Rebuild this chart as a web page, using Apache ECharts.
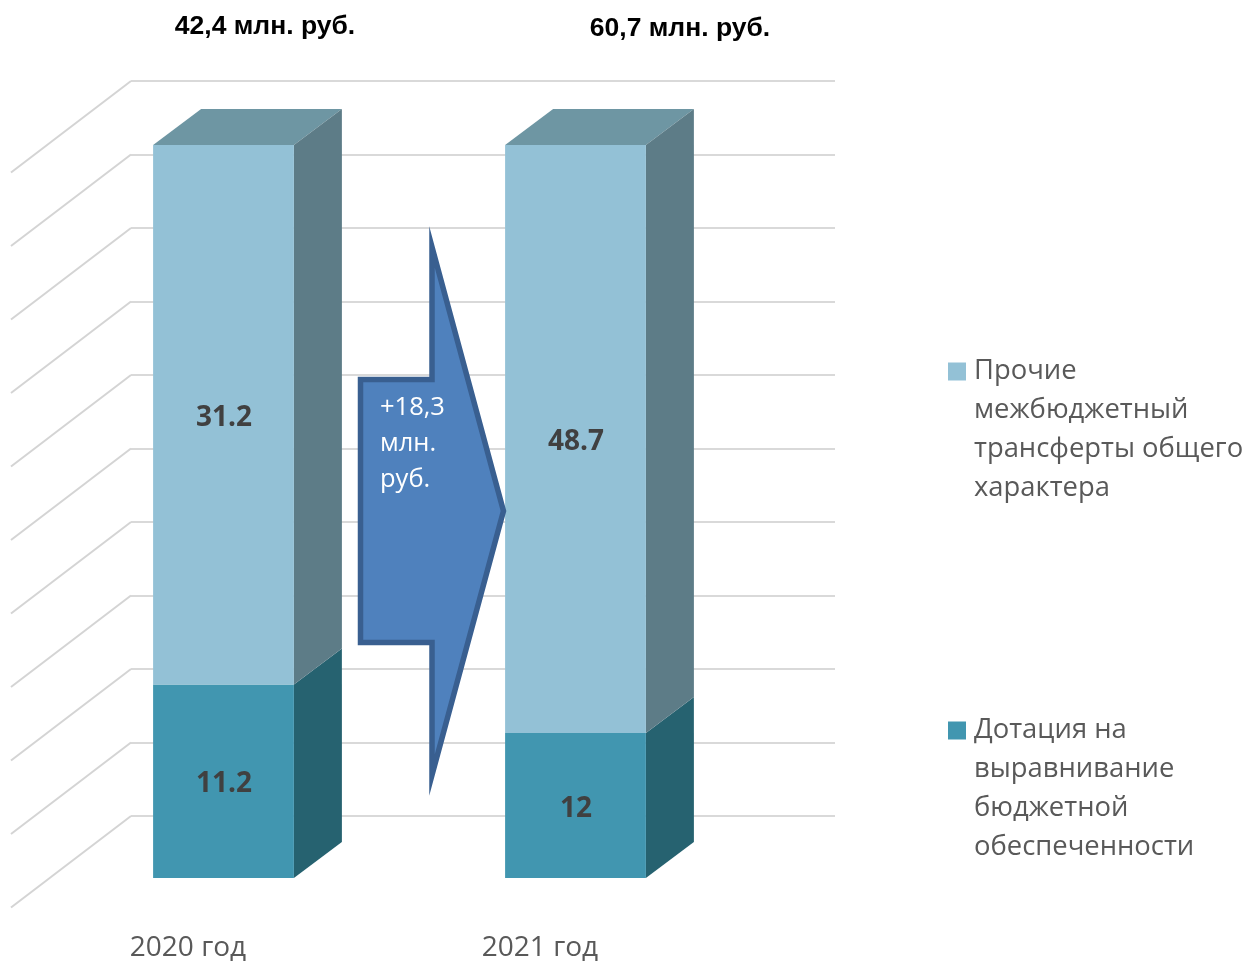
<!DOCTYPE html>
<html lang="ru">
<head>
    <meta charset="UTF-8">
    <title>Межбюджетные трансферты</title>
    <script src="https://cdn.jsdelivr.net/npm/echarts@6/dist/echarts.min.js"></script>
    <style>
        *{
            margin:0;
            padding:0;
        }
        .main{
            width:1248px;
            height:962px;
        }
    </style>
</head>
<body>
    <div class="main"></div>
    <script>
        var categories=['2020 год','2021 год']
        var dotation=[11.2,12]
        var other=[31.2,48.7]
        var totalLabels=['42,4 млн. руб.','60,7 млн. руб.']
        var wallTicks=[0,10,20,30,40,50,60,70,80,90,100]
        var dotationName='Дотация на выравнивание бюджетной обеспеченности'
        var otherName='Прочие межбюджетный трансферты общего характера'
        var arrowLines=['+18,3','млн.','руб.']

        var font='"Open Sans"'
        var depthX=48,depthY=36 //глубина столбца

        // столбцы идут как 100% накопление
        function share(i,v){
            return v/(dotation[i]+other[i])*100
        }
        var dotationData=categories.map(function(c,i){
            return [i,0,share(i,dotation[i]),dotation[i]]
        })
        var otherData=categories.map(function(c,i){
            return [i,share(i,dotation[i]),100,other[i]]
        })

        function barRender(front,side,top){
            return function(params,api){
                var w=api.size([1,0])[0]*0.4
                var a=api.coord([api.value(0),api.value(1)])
                var b=api.coord([api.value(0),api.value(2)])
                var l=a[0]+35.5-w/2,r=l+w,y0=a[1],y1=b[1]
                var children=[{
                    type:'polygon',
                    shape:{points:[[r,y0],[r+depthX,y0-depthY],[r+depthX,y1-depthY],[r,y1]]},
                    style:{fill:side}
                },{
                    type:'rect',
                    shape:{x:l,y:y1,width:w,height:y0-y1},
                    style:{fill:front}
                },{
                    type:'text',
                    style:{
                        text:String(api.value(3)),
                        x:(l+r)/2+0.5,
                        y:(y0+y1)/2+3,
                        align:'center',
                        verticalAlign:'middle',
                        fill:'#404040',
                        font:'bold 28px '+font
                    }
                }]
                if(top){
                    children.unshift({
                        type:'polygon',
                        shape:{points:[[l,y1],[l+depthX,y1-depthY],[r+depthX,y1-depthY],[r,y1]]},
                        style:{fill:top}
                    })
                }
                return {type:'group',children:children}
            }
        }

        // косые линии пола и стены
        function diagonalRender(params,api){
            var y=api.coord([0,api.value(0)])[1]
            var x=params.coordSys.x
            return {
                type:'line',
                shape:{x1:x,y1:y,x2:x-120,y2:y+91.5},
                style:{stroke:'#D4D4D4',lineWidth:2}
            }
        }

        var myChart=echarts.init(document.querySelector('.main'))
        var option={
            animation:false,
            title:[
                {text:totalLabels[0],left:260,top:8,textAlign:'center',
                    textStyle:{fontFamily:'"Liberation Sans"',fontSize:26.5,fontWeight:'bold',color:'#000'}},
                {text:totalLabels[1],left:675,top:10,textAlign:'center',
                    textStyle:{fontFamily:'"Liberation Sans"',fontSize:26.5,fontWeight:'bold',color:'#000'}}
            ],
            grid:[
                {left:131,top:81,width:704,height:735},
                {left:12,top:145,width:704,height:733}
            ],
            xAxis:[
                {type:'category',gridIndex:0,data:categories,show:false},
                {
                    type:'category',
                    gridIndex:1,
                    data:categories,
                    axisLine:{show:false},
                    axisTick:{show:false},
                    axisLabel:{margin:56,color:'#595959',fontFamily:font,fontSize:28}
                }
            ],
            yAxis:[
                {
                    type:'value',
                    gridIndex:0,
                    min:0,
                    max:100,
                    interval:10,
                    axisLine:{show:false},
                    axisTick:{show:false},
                    axisLabel:{show:false},
                    splitLine:{lineStyle:{color:'#D9D9D9',width:2}}
                },
                {type:'value',gridIndex:1,min:0,max:100,show:false,splitLine:{show:false}}
            ],
            legend:[
                {
                    data:[otherName],
                    icon:'rect',
                    left:943,
                    top:353,
                    itemWidth:18,
                    itemHeight:18,
                    itemGap:0,
                    selectedMode:false,
                    formatter:function(){return 'Прочие'},
                    textStyle:{color:'#595959',fontFamily:font,fontSize:27.4,padding:[0,0,0,3]}
                },
                {
                    data:[dotationName],
                    icon:'rect',
                    left:943,
                    top:712,
                    itemWidth:18,
                    itemHeight:18,
                    itemGap:0,
                    selectedMode:false,
                    formatter:function(){return 'Дотация на'},
                    textStyle:{color:'#595959',fontFamily:font,fontSize:27.4,padding:[0,0,0,3]}
                }
            ],
            series:[
                {
                    type:'custom',
                    name:'wall',
                    xAxisIndex:0,
                    yAxisIndex:0,
                    silent:true,
                    data:wallTicks,
                    encode:{y:0},
                    renderItem:diagonalRender
                },
                {
                    type:'custom',
                    name:dotationName,
                    xAxisIndex:1,
                    yAxisIndex:1,
                    silent:true,
                    z:3,
                    itemStyle:{color:'#4196B0'},
                    data:dotationData,
                    encode:{x:0,y:[1,2]},
                    renderItem:barRender('#4196B0','#266270',null)
                },
                {
                    type:'custom',
                    name:otherName,
                    xAxisIndex:1,
                    yAxisIndex:1,
                    silent:true,
                    z:4,
                    itemStyle:{color:'#93C1D6'},
                    data:otherData,
                    encode:{x:0,y:[1,2]},
                    renderItem:barRender('#93C1D6','#5D7C87','#6E96A3')
                }
            ],
            graphic:[
                {
                    type:'polygon',
                    z:10,
                    shape:{points:[[432,247],[503.5,511],[432,775],[432,642.5],[360.5,642.5],[360.5,379.5],[432,379.5]]},
                    style:{fill:'#4F81BD',stroke:'#395F90',lineWidth:5.5,lineJoin:'miter',miterLimit:10}
                },
                {
                    type:'text',
                    z:11,
                    left:380,
                    top:390,
                    style:{text:arrowLines.join('\n'),fill:'#fff',font:'25.5px '+font,lineHeight:36}
                },
                {
                    type:'text',
                    z:11,
                    left:974,
                    top:391,
                    style:{text:'межбюджетный\nтрансферты общего\nхарактера',fill:'#595959',font:'27.4px '+font,lineHeight:39}
                },
                {
                    type:'text',
                    z:11,
                    left:974,
                    top:750,
                    style:{text:'выравнивание\nбюджетной\nобеспеченности',fill:'#595959',font:'27.4px '+font,lineHeight:39}
                }
            ]
        }
        myChart.setOption(option)
    </script>
</body>
</html>
